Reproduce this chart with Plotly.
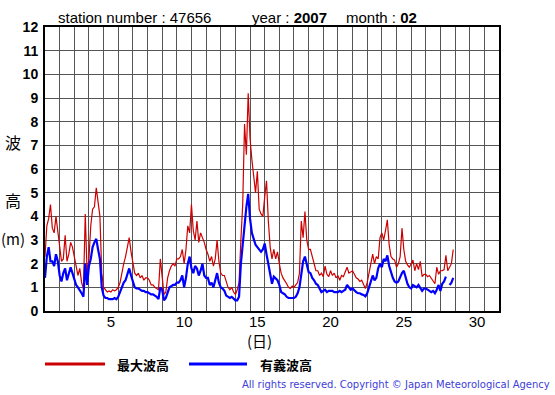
import plotly.graph_objects as go

# ---- data (3-hourly values), days 1..28 of Feb 2007 ----
days = list(range(1, 29))
hours = [0, 3, 6, 9, 12, 15, 18, 21]

max_wave = [  # 最大波高 (m)
    2.3, 3.6, 3.9, 4.5, 3.5, 3.3, 4.0, 3.3,      # 1
    2.6, 2.1, 2.2, 3.2, 2.1, 2.4, 2.9, 2.7,      # 2
    2.3, 1.8, 1.5, 1.8, 1.2, 0.95, 4.1, 1.6,     # 3
    2.2, 3.6, 4.3, 4.4, 5.2, 4.6, 4.0, 1.6,      # 4
    1.0, 0.9, 0.8, 0.85, 0.8, 0.9, 0.85, 0.9,    # 5
    1.0, 1.2, 1.7, 2.0, 2.3, 2.7, 3.1, 2.5,      # 6
    2.0, 1.6, 1.5, 1.6, 1.4, 1.5, 1.3, 1.4,      # 7
    1.4, 1.3, 1.1, 1.1, 1.0, 0.95, 0.9, 2.2,     # 8
    1.5, 0.7, 0.8, 1.4, 1.7, 1.9, 2.0, 1.9,      # 9
    2.2, 2.2, 2.3, 2.6, 2.0, 2.6, 3.6, 3.3,      # 10
    4.5, 3.4, 3.0, 3.8, 2.9, 3.3, 3.1, 2.9,      # 11
    2.6, 2.4, 2.1, 2.3, 1.9, 2.2, 3.0, 2.1,      # 12
    1.6, 1.5, 1.5, 1.2, 1.0, 0.9, 1.0, 0.8,      # 13
    0.7, 0.9, 1.2, 3.0, 4.5, 7.9, 6.6, 9.2,      # 14
    7.3, 6.4, 5.8, 5.0, 5.9, 4.3, 4.1, 4.0,      # 15
    4.8, 5.5, 3.8, 2.7, 2.2, 2.6, 2.2, 2.5,      # 16
    2.0, 1.6, 1.4, 1.3, 1.15, 1.0, 0.95, 1.05,   # 17
    1.0, 1.1, 1.2, 1.6, 3.8, 3.1, 4.2, 3.0,      # 18
    2.6, 2.6, 2.3, 2.1, 1.7, 1.7, 1.5, 1.6,      # 19
    1.45, 1.9, 1.55, 1.45, 1.7, 1.5, 1.6, 1.4,   # 20
    1.5, 1.3, 1.5, 1.45, 1.7, 1.85, 1.6, 1.65,   # 21
    1.7, 1.55, 1.4, 1.35, 1.25, 1.3, 1.1, 0.95,  # 22
    1.2, 1.6, 2.1, 2.4, 2.0, 2.3, 2.2, 3.1,      # 23
    3.3, 3.0, 3.4, 3.85, 2.8, 2.3, 2.2, 2.15,    # 24
    1.85, 2.0, 2.3, 3.5, 2.6, 2.1, 1.95, 1.85,   # 25
    2.0, 2.15, 1.7, 2.0, 1.75, 2.1, 1.45, 1.55,  # 26
    1.55, 1.45, 1.5, 1.4, 1.3, 1.15, 1.85, 1.55, # 27
    1.7, 1.7, 1.75, 2.35, 1.7, 1.85, 2.0, 2.6,   # 28
]

sig_wave = [  # 有義波高 (m)
    1.4, 2.3, 2.7, 2.1, 2.1, 1.9, 2.4, 2.1,      # 1
    1.5, 1.25, 1.6, 1.8, 1.3, 1.6, 1.85, 1.6,    # 2
    1.3, 1.1, 1.0, 0.9, 0.75, 0.6, 2.0, 1.1,     # 3
    1.9, 2.2, 2.7, 2.9, 3.05, 2.6, 2.2, 1.0,     # 4
    0.65, 0.55, 0.55, 0.5, 0.5, 0.5, 0.55, 0.5,  # 5
    0.6, 0.8, 1.0, 1.2, 1.3, 1.6, 1.8, 1.5,      # 6
    1.2, 1.0, 0.95, 0.95, 0.9, 0.85, 0.85, 0.8,  # 7
    0.8, 0.75, 0.7, 0.7, 0.65, 0.6, 0.5, 1.0,    # 8
    0.9, 0.45, 0.55, 0.8, 1.0, 1.05, 1.1, 1.1,   # 9
    1.2, 1.2, 1.3, 1.5, 1.0, 1.4, 2.0, 2.3,      # 10
    1.8, 1.6, 1.9, 1.8, 1.5, 1.7, 2.0, 1.5,      # 11
    1.4, 1.4, 1.1, 1.2, 1.0, 1.3, 1.6, 1.2,      # 12
    1.0, 0.95, 0.85, 0.65, 0.6, 0.55, 0.6, 0.5,  # 13
    0.45, 0.45, 0.6, 2.0, 2.9, 3.8, 4.4, 4.95,   # 14
    3.9, 3.3, 3.0, 2.8, 2.7, 2.6, 2.5, 2.6,      # 15
    2.85, 2.4, 2.0, 1.6, 1.15, 1.45, 1.35, 1.3,  # 16
    1.1, 0.8, 0.75, 0.7, 0.6, 0.55, 0.55, 0.55,  # 17
    0.55, 0.6, 0.75, 1.0, 1.6, 2.1, 2.3, 2.0,    # 18
    1.65, 1.6, 1.4, 1.3, 1.15, 1.1, 0.95, 0.8,   # 19
    0.85, 0.9, 0.8, 0.85, 0.85, 0.85, 0.8, 0.8,  # 20
    0.8, 0.85, 0.8, 0.85, 0.9, 1.1, 1.0, 0.9,    # 21
    0.95, 0.85, 0.8, 0.75, 0.75, 0.7, 0.68, 0.62,# 22
    0.75, 1.0, 1.3, 1.5, 1.3, 1.4, 1.8, 2.0,     # 23
    1.85, 2.2, 2.1, 2.35, 1.9, 1.6, 1.4, 1.25,   # 24
    1.2, 1.25, 1.45, 1.6, 1.7, 1.4, 1.15, 1.0,   # 25
    0.95, 1.1, 1.05, 1.0, 1.1, 1.0, 0.85, 0.95,  # 26
    0.95, 0.9, 0.85, 0.8, 0.85, 0.75, 0.9, 1.1,  # 27
    0.85, 1.15, 1.25, 1.45, None, 1.1, 1.2, 1.4, # 28
]

tick_days = [5, 10, 15, 20, 25, 30]
y_ticks = list(range(0, 13))

# time axis: day-of-month + fraction of day
times = [d + h / 24 for d in days for h in hours]

RED = "#cc0000"
BLUE = "#0000ff"

fig = go.Figure()
fig.add_trace(go.Scatter(x=times, y=max_wave, mode="lines", name="最大波高",
                         line=dict(color=RED, width=1.2), showlegend=False))
fig.add_trace(go.Scatter(x=times, y=sig_wave, mode="lines", name="有義波高",
                         line=dict(color=BLUE, width=2.2), showlegend=False,
                         connectgaps=False))

W, H = 555, 395
L, R, T, B = 45, 56, 27, 84
pw, ph = W - L - R, H - T - B

fig.update_layout(
    width=W, height=H,
    margin=dict(l=L, r=R, t=T, b=B),
    paper_bgcolor="white", plot_bgcolor="white",
    font=dict(family="Liberation Sans, Arial, sans-serif", color="black"),
)

fig.update_xaxes(
    range=[1, 32],
    tickvals=[d + 0.5 for d in tick_days],
    ticktext=[str(d) for d in tick_days],
    ticks="", showgrid=False,
    tickfont=dict(size=15, family="Liberation Sans, Arial, sans-serif"),
    minor=dict(dtick=1, tick0=1, showgrid=True, gridcolor="#555555", gridwidth=1, ticks=""),
    showline=True, linecolor="black", linewidth=2, mirror=True,
    zeroline=False, ticklabelstandoff=-4,
)
fig.update_yaxes(
    range=[0, 12],
    tickvals=y_ticks,
    ticktext=[str(v) for v in y_ticks],
    ticks="", showgrid=True, gridcolor="#555555", gridwidth=1,
    tickfont=dict(size=14, family="Liberation Sans, Arial, sans-serif", weight="bold"),
    showline=True, linecolor="black", linewidth=2, mirror=True,
    zeroline=False, ticklabelstandoff=2,
)


def px(x):
    return (x - L) / pw


def py(y):
    return (H - B - y) / ph


annots = []
# header
for text, x in [("station number : 47656", 56), ("year : <b>2007</b>", 250), ("month : <b>02</b>", 344)]:
    annots.append(dict(text=text, x=px(x), y=py(17), xanchor="left",
                       font=dict(size=15, family="Liberation Sans, Arial, sans-serif", color="black")))

cjk = "Noto Sans CJK JP, sans-serif"
annots += [
    dict(text="波", x=px(13), y=py(142), font=dict(size=16, family=cjk, color="black")),
    dict(text="高", x=px(13), y=py(200), font=dict(size=16, family=cjk, color="black")),
    dict(text="(m)", x=px(13), y=py(238), font=dict(size=15, family=cjk, color="black")),
    dict(text="(日)", x=px(259), y=py(340), font=dict(size=15, family=cjk, color="black")),
    dict(text="<b>最大波高</b>", x=px(143), y=py(364), font=dict(size=13, family=cjk, color="black")),
    dict(text="<b>有義波高</b>", x=px(286), y=py(364), font=dict(size=13, family=cjk, color="black")),
    dict(text="All rights reserved. Copyright © Japan Meteorological Agency", x=px(396), y=py(385),
         font=dict(size=10, family="DejaVu Sans, sans-serif", color="#4040d8")),
]
for a in annots:
    a.setdefault("xanchor", "center")
    a.update(xref="paper", yref="paper", showarrow=False, yanchor="middle")
fig.update_layout(annotations=annots)

# legend swatches
fig.add_shape(type="line", xref="paper", yref="paper", x0=px(45), x1=px(105), y0=py(364), y1=py(364),
              line=dict(color=RED, width=3))
fig.add_shape(type="line", xref="paper", yref="paper", x0=px(189), x1=px(247), y0=py(364), y1=py(364),
              line=dict(color=BLUE, width=3))

fig.write_html("out.html", config={"displayModeBar": False},
               post_script="document.body.style.margin='0px';")
